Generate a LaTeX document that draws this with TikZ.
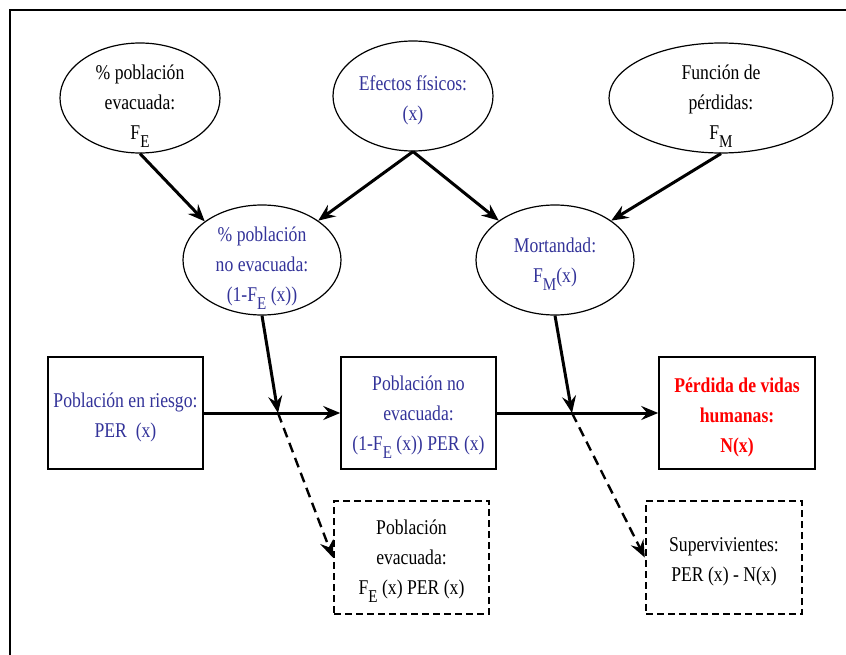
\documentclass[tikz,border=0pt]{standalone}
\usepackage{fontspec}
\setmainfont[FakeStretch=0.84]{Liberation Serif}
\usetikzlibrary{shapes.geometric,arrows.meta,calc}
\definecolor{txtblue}{RGB}{51,51,153}
\definecolor{txtred}{RGB}{255,0,0}
\newcommand{\sbs}[1]{\raisebox{-8bp}{\fontsize{18bp}{18bp}\selectfont #1}}
\tikzset{
  txt/.style={inner sep=0pt, align=center, font=\fontsize{21bp}{30bp}\selectfont},
  mid/.style={yshift=-4bp},
  low/.style={yshift=-8bp},
  ell/.style={ellipse, draw, line width=1.2bp, minimum width=160bp, minimum height=110bp, inner sep=0pt},
  box/.style={rectangle, draw, line width=1.6bp, minimum width=155bp, minimum height=112bp, inner sep=0pt},
  dbox/.style={rectangle, draw, line width=2.4bp, dash pattern=on 7bp off 4bp, minimum width=155bp, minimum height=113bp, inner sep=0pt},
  arr/.style={line width=3bp, -{Stealth[length=17bp,width=14bp,inset=6bp]}},
  darr/.style={line width=2.4bp, dash pattern=on 10bp off 6bp, -{Stealth[length=17bp,width=14bp,inset=6bp]}},
  blue/.style={text=txtblue},
  redt/.style={text=txtred, font=\fontsize{21bp}{30bp}\selectfont\bfseries}
}
\begin{document}
\begin{tikzpicture}[x=1bp,y=-1bp]
\useasboundingbox (0,0) rectangle (846,655);
\draw[line width=2bp] (846,10) -- (10,10) -- (10,655);

\node[ell] (e1) at (140,98) {};
\node[ell] (e2) at (413,96) {};
\node[ell, minimum width=224bp] (e3) at (721,98) {};
\node[ell, minimum width=158bp] (e4) at (262,260) {};
\node[ell, minimum width=158bp] (e5) at (555,260) {};
\node[box] (b1) at (125.5,413) {};
\node[box] (b2) at (418.5,413) {};
\node[box, minimum width=156bp] (b3) at (737,413) {};
\node[dbox] (d1) at (411.5,557.5) {};
\node[dbox, minimum width=156bp] (d2) at (724,557.5) {};

\node[txt, low] (e1t) at (e1) {\% población\\evacuada:\\F\sbs{E}};
\node[txt, mid, blue] (e2t) at (e2) {Efectos físicos:\\(x)};
\node[txt, low] (e3t) at (e3) {Función de\\pérdidas:\\F\sbs{M}};
\node[txt, low, blue] (e4t) at (e4) {\% población\\no evacuada:\\(1-F\sbs{E} (x))};
\node[txt, mid, blue] (e5t) at (e5) {Mortandad:\\F\sbs{M}(x)};
\node[txt, mid, blue] (b1t) at (b1) {Población en riesgo:\\PER\ \ (x)};
\node[txt, mid, blue] (b2t) at (b2) {Población no\\evacuada:\\(1-F\sbs{E} (x)) PER (x)};
\node[txt, mid, redt] (b3t) at (b3) {Pérdida de vidas\\humanas:\\N(x)};
\node[txt, mid] (d1t) at (d1) {Población\\evacuada:\\F\sbs{E} (x) PER (x)};
\node[txt, mid] (d2t) at (d2) {Supervivientes:\\PER (x) - N(x)};

\coordinate (c1) at (278,413);
\coordinate (c2) at (572,413);

\draw[arr] (e1.south) -- (e4.146);
\draw[arr] (e2.south) -- (e4.35);
\draw[arr] (e2.south) -- (e5.145);
\draw[arr] (e3.south) -- (e5.35);
\draw[arr] (b1.east) -- (b2.west);
\draw[arr] (b2.east) -- (b3.west);
\draw[arr] (e4.south) -- (c1);
\draw[arr] (e5.south) -- (c2);
\draw[darr] (c1) -- (d1.west);
\draw[darr] (c2) -- (d2.west);
\end{tikzpicture}
\end{document}
